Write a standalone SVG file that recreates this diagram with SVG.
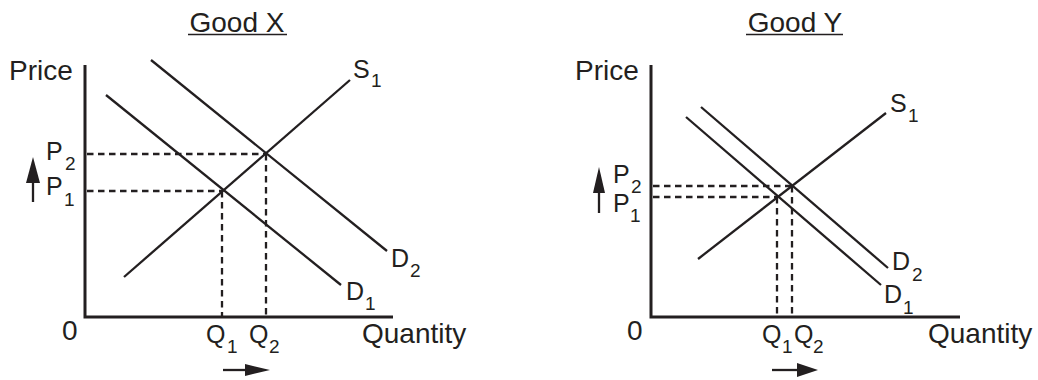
<svg xmlns="http://www.w3.org/2000/svg" width="1038" height="380" viewBox="0 0 1038 380">
<style>
text{font-family:"Liberation Sans",Arial,sans-serif;fill:#231f20}
.big{font-size:28px}
.lab{font-size:25px}
.sub{font-size:19px}
.axis{stroke:#231f20;stroke-width:3;fill:none}
.curve{stroke:#231f20;stroke-width:2.3;fill:none}
.dash{stroke:#231f20;stroke-width:2.3;fill:none;stroke-dasharray:6.5 4.5}
.ul{stroke:#231f20;stroke-width:1.6}
.ah{fill:#231f20}
</style>
<rect width="1038" height="380" fill="#fff"/>
<g id="goodX">
<g id="titleX"><text class="big" x="237" y="32" text-anchor="middle">Good X</text><line class="ul" x1="188" y1="34.5" x2="287" y2="34.5"/></g>
<g id="axesX">
<polyline class="axis" points="85,65 85,317 393,317"/>
<text class="big" x="9" y="80">Price</text>
<text class="big" x="62" y="340">0</text>
<text class="big" x="362" y="343">Quantity</text>
</g>
<g id="connectorsX">
<line class="curve" x1="124" y1="277" x2="350" y2="80"/>
<line class="curve" x1="106" y1="95" x2="341" y2="285"/>
<line class="curve" x1="151" y1="60" x2="387" y2="251"/>
<line class="dash" x1="87" y1="154" x2="266" y2="154"/>
<line class="dash" x1="87" y1="191" x2="222" y2="191"/>
<line class="dash" x1="222" y1="191" x2="222" y2="316"/>
<line class="dash" x1="266" y1="154" x2="266" y2="316"/>
<line class="curve" x1="33" y1="202" x2="33" y2="180"/>
<polygon class="ah" points="33,157 26,183 40,183"/>
<line class="curve" x1="223" y1="370" x2="246" y2="370"/>
<polygon class="ah" points="270,370 245,364 245,376"/>
</g>
<g id="labelsX">
<text class="lab" x="46" y="160">P</text><text class="sub" x="65" y="170">2</text>
<text class="lab" x="46" y="195">P</text><text class="sub" x="64" y="206">1</text>
<text class="lab" x="206" y="343">Q</text><text class="sub" x="227" y="353">1</text>
<text class="lab" x="249" y="343">Q</text><text class="sub" x="269" y="353">2</text>
<text class="lab" x="353" y="78">S</text><text class="sub" x="371" y="87">1</text>
<text class="lab" x="391" y="267">D</text><text class="sub" x="410" y="277">2</text>
<text class="lab" x="346" y="300">D</text><text class="sub" x="365" y="310">1</text>
</g>
</g>
<g id="goodY">
<g id="titleY"><text class="big" x="795" y="32" text-anchor="middle">Good Y</text><line class="ul" x1="746" y1="34.5" x2="843" y2="34.5"/></g>
<g id="axesY">
<polyline class="axis" points="651,65 651,317 960,317"/>
<text class="big" x="575" y="80">Price</text>
<text class="big" x="627" y="340">0</text>
<text class="big" x="928" y="343">Quantity</text>
</g>
<g id="connectorsY">
<line class="curve" x1="698" y1="259" x2="886" y2="113"/>
<line class="curve" x1="701" y1="107" x2="888" y2="268"/>
<line class="curve" x1="686" y1="117" x2="881" y2="285"/>
<line class="dash" x1="653" y1="186" x2="792" y2="186"/>
<line class="dash" x1="653" y1="197" x2="777" y2="197"/>
<line class="dash" x1="777" y1="197" x2="777" y2="316"/>
<line class="dash" x1="792" y1="186" x2="792" y2="316"/>
<line class="curve" x1="599" y1="213" x2="599" y2="190"/>
<polygon class="ah" points="599,167 593,193 605,193"/>
<line class="curve" x1="772" y1="370" x2="798" y2="370"/>
<polygon class="ah" points="818,370 797,363 797,377"/>
</g>
<g id="labelsY">
<text class="lab" x="613" y="183">P</text><text class="sub" x="631" y="193">2</text>
<text class="lab" x="613" y="212">P</text><text class="sub" x="630" y="222">1</text>
<text class="lab" x="762" y="343">Q</text><text class="sub" x="782" y="353">1</text>
<text class="lab" x="794" y="343">Q</text><text class="sub" x="813" y="353">2</text>
<text class="lab" x="890" y="112">S</text><text class="sub" x="908" y="122">1</text>
<text class="lab" x="892" y="270">D</text><text class="sub" x="912" y="281">2</text>
<text class="lab" x="884" y="303">D</text><text class="sub" x="903" y="314">1</text>
</g>
</g>
</svg>
